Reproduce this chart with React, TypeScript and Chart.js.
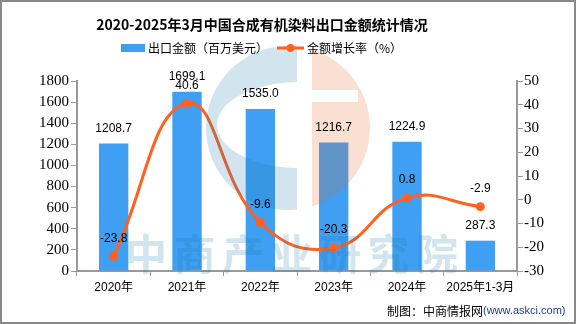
import React, { useEffect, useRef } from 'react';
import { Chart, registerables } from 'chart.js';

Chart.register(...registerables);

const categories = ['2020年', '2021年', '2022年', '2023年', '2024年', '2025年1-3月'];
const exportValues = [1208.7, 1699.1, 1535.0, 1216.7, 1224.9, 287.3];
const growthRates = [-23.8, 40.6, -9.6, -20.3, 0.8, -2.9];
const leftAxis = { min: 0, max: 1800, step: 200 };
const rightAxis = { min: -30, max: 50, step: 10 };
const titleText = '2020-2025年3月中国合成有机染料出口金额统计情况';
const barLabel = '出口金额（百万美元）';
const lineLabel = '金额增长率（%）';
const footerText = '制图：中商情报网';
const footerUrl = '(www.askci.com)';
const watermarkText = '中商产业研究院';

const BAR_COLOR = '#3F9FF2';
const LINE_COLOR = '#FF6120';
const AXIS_COLOR = '#999999';
const CJK = "'Noto Sans CJK SC', sans-serif";
const LATIN = "'Liberation Sans', 'Noto Sans CJK SC', sans-serif";
const SERIF = "'Liberation Serif', serif";

const decorPlugin = {
  id: 'decor',
  afterDatasetsDraw(chart: any) {
    const ctx = chart.ctx as CanvasRenderingContext2D;
    // watermark logo
    ctx.save();
    const cx = 288, cy = 128, r = 82;
    ctx.globalAlpha = 0.2;
    ctx.beginPath();
    ctx.rect(0, 0, 297, 400);
    ctx.clip();
    ctx.beginPath();
    ctx.arc(cx, cy, r, 0, Math.PI * 2);
    ctx.ellipse(300, 125, 83, 43, 0, 0, Math.PI * 2, true);
    ctx.fillStyle = 'rgb(30,120,170)';
    ctx.fill('evenodd');
    ctx.restore();
    ctx.save();
    ctx.globalAlpha = 0.2;
    ctx.beginPath();
    ctx.rect(312, 0, 100, 400);
    ctx.clip();
    ctx.beginPath();
    ctx.arc(cx, cy, r, 0, Math.PI * 2);
    ctx.rect(312, 90, 46, 12);
    ctx.fillStyle = 'rgb(230,100,30)';
    ctx.fill('evenodd');
    ctx.restore();
    // watermark text
    ctx.save();
    ctx.globalAlpha = 0.2;
    ctx.fillStyle = 'rgb(30,120,170)';
    ctx.font = `bold 42px ${CJK}`;
    ctx.textBaseline = 'middle';
    ctx.textAlign = 'center';
    for (let i = 0; i < watermarkText.length; i++) {
      ctx.fillText(watermarkText[i], 146 + i * 48.5, 254);
    }
    ctx.restore();

    // data labels
    ctx.save();
    ctx.fillStyle = '#000';
    ctx.font = `12px ${LATIN}`;
    ctx.textAlign = 'center';
    ctx.textBaseline = 'middle';
    const barMeta = chart.getDatasetMeta(1);
    barMeta.data.forEach((el: any, i: number) => {
      ctx.fillText(exportValues[i].toFixed(1), el.x, el.y - 15);
    });
    const lineMeta = chart.getDatasetMeta(0);
    lineMeta.data.forEach((el: any, i: number) => {
      ctx.fillText(growthRates[i].toFixed(1), el.x, el.y - 18);
    });
    ctx.restore();
  },
  afterDraw(chart: any) {
    const ctx = chart.ctx as CanvasRenderingContext2D;
    ctx.save();
    // title
    ctx.fillStyle = '#000';
    ctx.font = `bold 14px ${CJK}`;
    ctx.textAlign = 'center';
    ctx.textBaseline = 'middle';
    ctx.fillText(titleText, 262, 25);
    // legend
    ctx.textAlign = 'left';
    ctx.font = `12px ${CJK}`;
    ctx.fillStyle = BAR_COLOR;
    ctx.fillRect(121, 44, 24, 8);
    ctx.fillStyle = '#000';
    ctx.fillText(barLabel, 148, 48);
    ctx.strokeStyle = LINE_COLOR;
    ctx.lineWidth = 3;
    ctx.beginPath();
    ctx.moveTo(277, 48);
    ctx.lineTo(304, 48);
    ctx.stroke();
    ctx.fillStyle = LINE_COLOR;
    ctx.beginPath();
    ctx.arc(290.5, 48, 4, 0, Math.PI * 2);
    ctx.fill();
    ctx.fillStyle = '#000';
    ctx.fillText(lineLabel, 307, 48);
    // footer
    ctx.font = `12px ${CJK}`;
    ctx.fillText(footerText, 387, 311);
    const w = ctx.measureText(footerText).width;
    ctx.font = `11px 'Liberation Sans', sans-serif`;
    ctx.fillStyle = 'rgb(30,60,150)';
    ctx.fillText(footerUrl, 387 + w, 311);
    // border
    ctx.strokeStyle = '#888888';
    ctx.lineWidth = 2;
    ctx.strokeRect(1, 1, 574, 322);
    ctx.restore();
  },
};

export default function App() {
  const ref = useRef<HTMLCanvasElement | null>(null);
  useEffect(() => {
    document.body.style.margin = '0';
    const canvas = ref.current;
    if (!canvas) return;
    const chart = new Chart(canvas, {
      data: {
        labels: categories,
        datasets: [
          {
            type: 'line',
            label: lineLabel,
            data: growthRates,
            yAxisID: 'y1',
            borderColor: LINE_COLOR,
            backgroundColor: LINE_COLOR,
            borderWidth: 3,
            tension: 0.45,
            pointRadius: 4.5,
            pointBackgroundColor: LINE_COLOR,
            pointBorderWidth: 0,
            order: 0,
          },
          {
            type: 'bar',
            label: barLabel,
            data: exportValues,
            yAxisID: 'y',
            backgroundColor: BAR_COLOR,
            barPercentage: 0.4,
            categoryPercentage: 1,
            order: 1,
          },
        ],
      } as any,
      options: {
        responsive: false,
        animation: false,
        layout: { padding: { top: 81, left: 0, right: 0, bottom: 0 } },
        plugins: {
          legend: { display: false },
          title: { display: false },
          tooltip: { enabled: false },
        },
        scales: {
          x: {
            type: 'category',
            offset: true,
            grid: { offset: true, drawOnChartArea: false, tickLength: 5, color: AXIS_COLOR, lineWidth: 1 },
            border: { color: AXIS_COLOR, width: 2 },
            ticks: { color: '#000', font: { family: LATIN, size: 12 }, padding: 4, maxRotation: 0, autoSkip: false },
            afterFit: (s: any) => { s.height = 53; },
          },
          y: {
            position: 'left',
            min: leftAxis.min,
            max: leftAxis.max,
            grid: { drawOnChartArea: false, tickLength: 6, color: AXIS_COLOR, lineWidth: 1 },
            border: { color: AXIS_COLOR, width: 2 },
            ticks: {
              stepSize: leftAxis.step,
              color: '#000',
              font: { family: SERIF, size: 15 },
              padding: 2,
              callback: (v: any) => String(v),
            },
            afterFit: (s: any) => { s.width = 77; },
          },
          y1: {
            position: 'right',
            min: rightAxis.min,
            max: rightAxis.max,
            grid: { drawOnChartArea: false, tickLength: 6, color: AXIS_COLOR, lineWidth: 1 },
            border: { color: AXIS_COLOR, width: 2 },
            ticks: {
              stepSize: rightAxis.step,
              color: '#000',
              font: { family: SERIF, size: 15 },
              padding: 1,
              callback: (v: any) => String(v),
            },
            afterFit: (s: any) => { s.width = 59; },
          },
        },
      } as any,
      plugins: [decorPlugin],
    });
    return () => chart.destroy();
  }, []);
  return (
    <div style={{ width: 576, height: 324 }}>
      <canvas ref={ref} width={576} height={324} style={{ display: 'block' }} />
    </div>
  );
}
